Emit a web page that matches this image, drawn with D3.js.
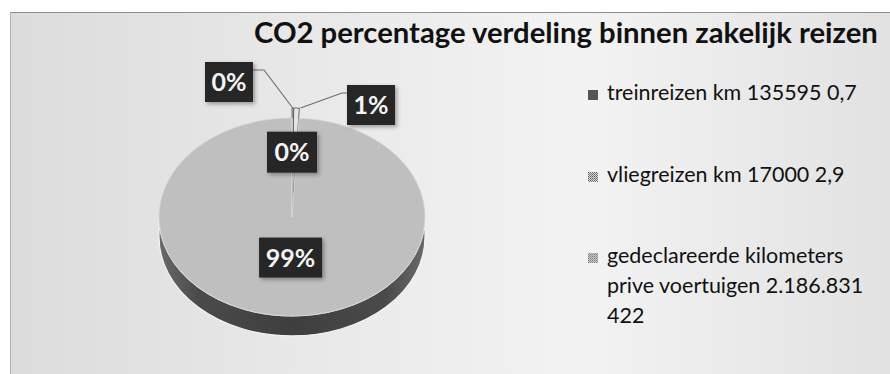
<!DOCTYPE html>
<html>
<head>
<meta charset="utf-8">
<script src="https://cdn.jsdelivr.net/npm/d3@7"></script>
<style>
  html, body { margin: 0; padding: 0; background: #ffffff; }
  svg { display: block; }
</style>
</head>
<body>
<svg id="chart" width="890" height="374"></svg>
<script>
// ---- data ----
const title = "CO2 percentage verdeling binnen zakelijk reizen";
const categories = ["treinreizen km 135595 0,7", "vliegreizen km 17000 2,9", "gedeclareerde kilometers prive voertuigen 2.186.831 422", ""];
const legendLines = [["treinreizen km 135595 0,7"], ["vliegreizen km 17000 2,9"], ["gedeclareerde kilometers", "prive voertuigen 2.186.831", "422"]];
const values = [0.7, 2.9, 422, 0];
const explodeFlags = [1, 1, 0, 0];

// ---- layout ----
const W = 890, H = 374;
const cx = 292, cy = 217, rx = 133, ry = 99, depth = 20, explodeDist = 10;
const faceColors = ["#d8d8d8", "#e4e4e4", "#bfbfbf", "#bfbfbf"];
const legendMarkerFill = ["#555555", "url(#pat2)", "url(#pat3)"];
const labelLayout = [
  {mode: "out", bx: 229, by: 82, w: 48, h: 40, leader: [[253, 70], [264, 70]], side: "left"},
  {mode: "out", bx: 371, by: 105, w: 48, h: 40, leader: [[347, 93], [342, 93]], side: "right"},
  {mode: "in", k: 0.41, w: 63, h: 40},
  {mode: "in", k: 0.655, w: 50, h: 41}
];
const labelOrder = [0, 1, 2, 3];

const svg = d3.select("#chart");
const defs = svg.append("defs");

const bg = defs.append("linearGradient").attr("id", "bgGrad").attr("x1", 0).attr("x2", 1).attr("y1", 0).attr("y2", 0);
bg.append("stop").attr("offset", "0%").attr("stop-color", "#dcdcdc");
bg.append("stop").attr("offset", "35%").attr("stop-color", "#e9e9e9");
bg.append("stop").attr("offset", "65%").attr("stop-color", "#f3f3f3");
bg.append("stop").attr("offset", "100%").attr("stop-color", "#e2e2e2");

const rimGrad = defs.append("linearGradient").attr("id", "rimGrad").attr("x1", 0).attr("x2", 1).attr("y1", 0).attr("y2", 0);
rimGrad.append("stop").attr("offset", "0%").attr("stop-color", "#6a6a6a");
rimGrad.append("stop").attr("offset", "15%").attr("stop-color", "#4a4a4a");
rimGrad.append("stop").attr("offset", "50%").attr("stop-color", "#3e3e3e");
rimGrad.append("stop").attr("offset", "85%").attr("stop-color", "#4a4a4a");
rimGrad.append("stop").attr("offset", "100%").attr("stop-color", "#6a6a6a");

const shadow = defs.append("filter").attr("id", "shadow").attr("x", "-30%").attr("y", "-30%").attr("width", "160%").attr("height", "160%");
shadow.append("feDropShadow").attr("dx", 2).attr("dy", 2).attr("stdDeviation", 2).attr("flood-color", "#000").attr("flood-opacity", 0.35);

const p2 = defs.append("pattern").attr("id", "pat2").attr("width", 2).attr("height", 2).attr("patternUnits", "userSpaceOnUse");
p2.append("rect").attr("width", 2).attr("height", 2).attr("fill", "#e0e0e0");
p2.append("rect").attr("width", 1).attr("height", 1).attr("fill", "#5a5a5a");
p2.append("rect").attr("x", 1).attr("y", 1).attr("width", 1).attr("height", 1).attr("fill", "#7a7a7a");
const p3 = defs.append("pattern").attr("id", "pat3").attr("width", 2).attr("height", 2).attr("patternUnits", "userSpaceOnUse");
p3.append("rect").attr("width", 2).attr("height", 2).attr("fill", "#c8c8c8");
p3.append("rect").attr("width", 1).attr("height", 1).attr("fill", "#7c7c7c");
p3.append("rect").attr("x", 1).attr("y", 1).attr("width", 1).attr("height", 1).attr("fill", "#999999");

svg.append("rect").attr("width", W).attr("height", H).attr("fill", "#ffffff");
svg.append("rect").attr("x", 10).attr("y", 12).attr("width", W - 10).attr("height", H - 12).attr("fill", "url(#bgGrad)");
svg.append("line").attr("x1", 10).attr("x2", W).attr("y1", 12.5).attr("y2", 12.5).attr("stroke", "#8e8e8e").attr("stroke-width", 1);
svg.append("line").attr("x1", 10.5).attr("x2", 10.5).attr("y1", 12).attr("y2", H).attr("stroke", "#b0b0b0").attr("stroke-width", 1);

const fontFam = "Lato, 'Open Sans', 'Liberation Sans', sans-serif";

// fit font size so the natural width equals target
function fitSize(sel, base, target) {
  sel.attr("font-size", base);
  const w = sel.node().getComputedTextLength();
  const s = w > 0 ? base * target / w : base;
  sel.attr("font-size", s);
  return s;
}

const titleT = svg.append("text").attr("x", 254).attr("y", 43).attr("font-family", fontFam).attr("font-weight", "bold")
  .attr("fill", "#111").text(title);
fitSize(titleT, 30, 624);

const pie = d3.pie().sort(null).value(d => d)(values);
const total = d3.sum(values);
const arc = d3.arc().innerRadius(0).outerRadius(rx);
const sy = ry / rx;

const rimD = `M${cx + rx},${cy} A${rx},${ry} 0 0 1 ${cx - rx},${cy} L${cx - rx},${cy + depth} A${rx},${ry} 0 0 0 ${cx + rx},${cy + depth} Z`;
svg.append("path").attr("d", rimD).attr("fill", "url(#rimGrad)").attr("stroke", "#f4f4f4").attr("stroke-width", 1.2);

const faceG = svg.append("g").attr("transform", `translate(${cx},${cy}) scale(1,${sy})`);
faceG.selectAll("path.slice").data(pie).join("path")
  .attr("class", "slice")
  .attr("d", arc)
  .attr("transform", (d, i) => {
    if (!explodeFlags[i]) return null;
    const a = (d.startAngle + d.endAngle) / 2;
    return `translate(${Math.sin(a) * explodeDist},${-Math.cos(a) * explodeDist / sy})`;
  })
  .attr("fill", (d, i) => faceColors[i])
  .attr("stroke", (d, i) => explodeFlags[i] ? "#5a5a5a" : "#d6d6d6")
  .attr("stroke-width", (d, i) => explodeFlags[i] ? 0.9 : 0.8)
  .attr("vector-effect", "non-scaling-stroke");

const fmt = v => Math.round(v / total * 100) + "%";
pie.forEach((d, i) => {
  const L = labelLayout[labelOrder[i]];
  let bx, by;
  if (L.mode === "in") {
    const a = (d.startAngle + d.endAngle) / 2;
    bx = cx + Math.sin(a) * rx * L.k;
    by = cy - Math.cos(a) * ry * L.k;
  } else {
    bx = L.bx; by = L.by;
    const a = (d.startAngle + d.endAngle) / 2;
    const ex = cx + Math.sin(a) * rx + Math.sin(a) * explodeDist;
    const ey = cy - Math.cos(a) * ry - Math.cos(a) * explodeDist;
    const pts = L.leader.concat([[ex + (L.side === "left" ? 0 : 4), ey]]);
    svg.append("path").attr("d", d3.line()(pts)).attr("fill", "none").attr("stroke", "#6a6a6a").attr("stroke-width", 1.1);
  }
  const g = svg.append("g").attr("transform", `translate(${bx},${by})`);
  g.append("rect").attr("x", -L.w / 2).attr("y", -L.h / 2).attr("width", L.w).attr("height", L.h)
    .attr("fill", "#262626").attr("filter", "url(#shadow)");
  g.append("text").attr("x", 0).attr("y", 9).attr("text-anchor", "middle")
    .attr("font-family", fontFam).attr("font-weight", "bold").attr("font-size", 25)
    .attr("fill", "#f4f4f4").text(fmt(d.value));
});

const legendX = 588, textX = 607;
const rowBase = [100, 182, 263];
const lineGap = 30;
// measure legend font size from first line's width
const probe = svg.append("text").attr("font-family", fontFam).text(legendLines[0][0]);
const legendSize = fitSize(probe, 20, 250);
probe.remove();
legendLines.forEach((lines, i) => {
  svg.append("rect").attr("x", legendX).attr("y", rowBase[i] - 10).attr("width", 10).attr("height", 10)
    .attr("fill", legendMarkerFill[i]);
  lines.forEach((t, j) => {
    svg.append("text").attr("x", textX).attr("y", rowBase[i] + j * lineGap)
      .attr("font-family", fontFam).attr("font-size", legendSize).attr("fill", "#111").text(t);
  });
});
</script>
</body>
</html>
